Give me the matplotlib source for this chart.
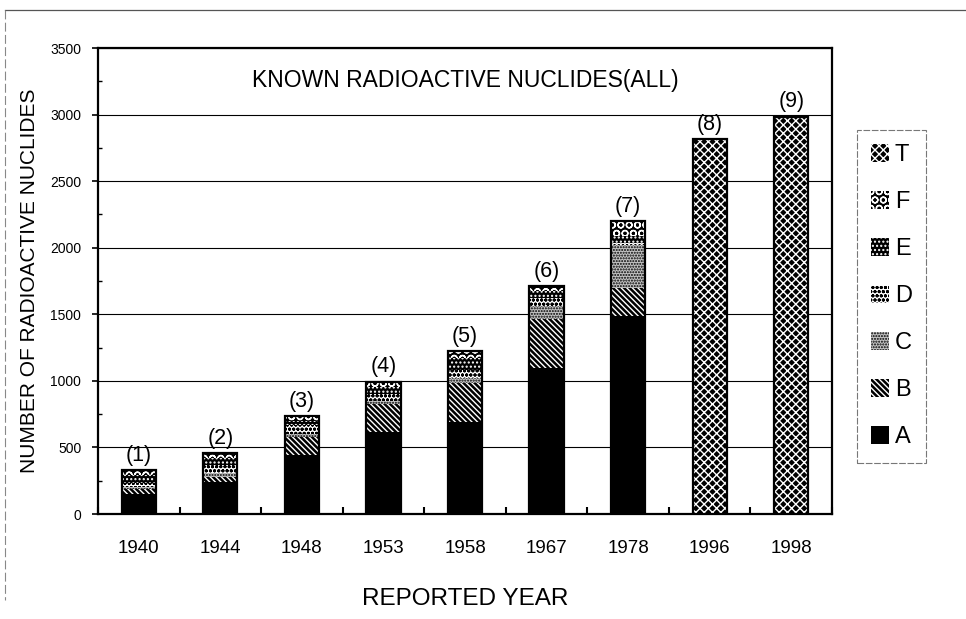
import matplotlib
matplotlib.use("Agg")
import matplotlib.pyplot as plt
from matplotlib.patches import Patch
from matplotlib.ticker import MultipleLocator, FixedLocator
import numpy as np

plt.rcParams['font.family'] = ['Liberation Sans', 'DejaVu Sans']
plt.rcParams['hatch.linewidth'] = 1.0

years = ["1940", "1944", "1948", "1953", "1958", "1967", "1978", "1996", "1998"]
bar_labels = ["(1)", "(2)", "(3)", "(4)", "(5)", "(6)", "(7)", "(8)", "(9)"]
series_names = ["A", "B", "C", "D", "E", "F", "T"]
A = [150, 240, 440, 615, 690, 1100, 1490, 0, 0]
B = [40, 40, 140, 210, 295, 365, 210, 0, 0]
C = [15, 25, 20, 25, 35, 100, 320, 0, 0]
D = [30, 65, 65, 55, 65, 60, 15, 0, 0]
E = [55, 50, 35, 50, 90, 50, 50, 0, 0]
F = [40, 40, 35, 40, 50, 35, 115, 0, 0]
T = [0, 0, 0, 0, 0, 0, 0, 2815, 2985]
series = [A, B, C, D, E, F, T]

styles = {
    "A": dict(facecolor="black", hatch=None, hcolor="black"),
    "B": dict(facecolor="black", hatch="\\" * 6, hcolor="white"),
    "C": dict(facecolor="#c4c4c4", hatch="......", hcolor="black"),
    "D": dict(facecolor="white", hatch="oooo", hcolor="black"),
    "E": dict(facecolor="black", hatch="....", hcolor="white"),
    "F": dict(facecolor="black", hatch="OO", hcolor="white"),
    "T": dict(facecolor="black", hatch="xxxx", hcolor="white"),
}

fig = plt.figure(figsize=(9.66, 6.19), dpi=100)
ax = fig.add_axes([98/966, 1-514/619, (832-98)/966, (514-48)/619])

x = np.arange(len(years))
width = 0.42
bottom = np.zeros(len(years))
for name, vals in zip(series_names, series):
    st = styles[name]
    vals = np.array(vals, dtype=float)
    ax.bar(x, vals, width, bottom=bottom, color=st["facecolor"],
           hatch=st["hatch"], edgecolor=st["hcolor"], linewidth=0, zorder=3)
    bottom += vals

# outline of bars
ax.bar(x, bottom, width, facecolor="none", edgecolor="black", linewidth=1.6, zorder=4)

for xi, tot, lab in zip(x, bottom, bar_labels):
    ax.annotate(lab, (xi, tot), xytext=(0, 3), textcoords="offset points",
                ha="center", va="bottom", fontsize=15.5, zorder=5)

ax.set_xlim(-0.5, len(years) - 0.5)
ax.set_ylim(0, 3500)
ax.yaxis.set_major_locator(MultipleLocator(500))
ax.yaxis.set_minor_locator(MultipleLocator(250))
ax.grid(axis="y", which="major", color="black", linewidth=0.8, zorder=0)
ax.set_axisbelow(True)

ax.set_xticks(x)
ax.set_xticklabels(years, fontsize=13.5)
ax.xaxis.set_minor_locator(FixedLocator(np.arange(-0.5, len(years), 1.0)))
ax.tick_params(axis="x", which="major", length=0, pad=19)
ax.tick_params(axis="x", which="minor", length=5, width=1.5, direction="in")
ax.tick_params(axis="y", which="major", labelsize=10, length=4, width=1.2, direction="out", pad=8)
ax.tick_params(axis="y", which="minor", length=3, width=1, direction="in")

for sp in ax.spines.values():
    sp.set_linewidth(1.6)
    sp.set_color("black")

ax.set_xlabel("REPORTED YEAR", fontsize=17.5, labelpad=22)
ax.set_ylabel("NUMBER OF RADIOACTIVE NUCLIDES", fontsize=15, labelpad=8)

ax.text(0.5, 0.931, "KNOWN RADIOACTIVE NUCLIDES(ALL)", transform=ax.transAxes,
        ha="center", va="center", fontsize=16.5)

handles = []
for name in reversed(series_names):
    st = styles[name]
    handles.append(Patch(facecolor=st["facecolor"], hatch=st["hatch"] if st["hatch"] else None,
                         edgecolor=st["hcolor"], linewidth=0, label=name))
leg = fig.legend(handles=handles, loc="upper left",
                 bbox_to_anchor=(857/966, 1-130/619), fontsize=17,
                 handlelength=0.75, handleheight=0.75, handletextpad=0.25,
                 labelspacing=1.06, borderpad=0.6, borderaxespad=0,
                 frameon=True, fancybox=False)
frame = leg.get_frame()
frame.set_edgecolor("#555555")
frame.set_linewidth(0.8)
frame.set_linestyle((0, (6, 1.5)))

# outer page border lines (top and left)
fig.add_artist(plt.Line2D([5/966, 1], [1-10/619, 1-10/619], color="#555555", lw=0.9,
                          transform=fig.transFigure))
fig.add_artist(plt.Line2D([5/966, 5/966], [1-10/619, 1-600/619], color="#888888", lw=0.8,
                          linestyle=(0, (8, 3)), transform=fig.transFigure))

fig.savefig("out.png", dpi=100)
